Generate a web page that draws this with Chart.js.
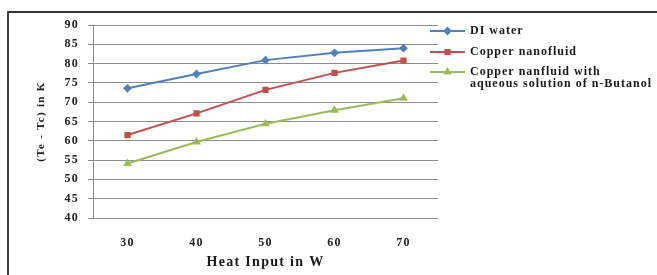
<!DOCTYPE html>
<html>
<head>
<meta charset="utf-8">
<script src="https://cdn.jsdelivr.net/npm/chart.js@4"></script>
<style>
  body { margin: 0; background: #fff; }
  #wrap { position: relative; width: 657px; height: 275px; }
  #frame { position: absolute; left: 7px; top: 11px; width: 660px; height: 300px;
           border-left: 2px solid #444; border-top: 2px solid #333; }
  canvas { position: absolute; left: 0; top: 0; }
</style>
</head>
<body>
<div id="wrap">
  <div id="frame"></div>
  <canvas id="heatChart" width="657" height="275"></canvas>
</div>
<script>
const heatInput = ["30", "40", "50", "60", "70"];
const diWater = [73.6, 77.3, 80.9, 82.8, 84.0];
const copperNano = [61.5, 67.1, 73.2, 77.6, 80.8];
const copperButanol = [54.1, 59.7, 64.4, 67.9, 71.0];
const seriesNames = ["DI water", "Copper nanofluid", ["Copper nanfluid with", "aqueous solution of n-Butanol"]];

const serif = "'Liberation Serif', 'DejaVu Serif', serif";

// the picture's text is spread out a bit, so widen letter spacing for all chart text
const spacedText = {
    id: 'spacedText',
    beforeDraw(chart) {
        chart.ctx.letterSpacing = "1.3px";
    }
};

// legend drawn by hand so the third label can wrap on two lines
const sideLegend = {
    id: 'sideLegend',
    afterDraw(chart) {
        const ctx = chart.ctx;
        const rows = [31, 52, 72];
        ctx.save();
        chart.data.datasets.forEach((ds, i) => {
            const y = rows[i];
            ctx.strokeStyle = ds.borderColor;
            ctx.lineWidth = 2;
            ctx.beginPath();
            ctx.moveTo(430, y);
            ctx.lineTo(465, y);
            ctx.stroke();
            ctx.fillStyle = ds.borderColor;
            Chart.helpers.drawPoint(ctx, {
                pointStyle: ds.pointStyle,
                radius: ds.pointRadius,
                rotation: 0,
                borderWidth: 1
            }, 447.5, y);
            ctx.fillStyle = "#1a1a1a";
            ctx.font = "bold 12px " + serif;
            ctx.letterSpacing = "1px";
            ctx.textBaseline = "middle";
            const label = seriesNames[i];
            if (Array.isArray(label)) {
                label.forEach((t, k) => ctx.fillText(t, 470, y + k * 12));
            } else {
                ctx.fillText(label, 470, y);
            }
        });
        ctx.restore();
    }
};

const ctx = document.getElementById('heatChart').getContext('2d');
const heatChart = new Chart(ctx, {
    type: 'line',
    data: {
        labels: heatInput,
        datasets: [{
            label: "DI water",
            data: diWater,
            borderColor: '#4f81bd',
            backgroundColor: '#4f81bd',
            pointStyle: 'rectRot',
            pointRadius: 3,
            borderWidth: 2
        }, {
            label: "Copper nanofluid",
            data: copperNano,
            borderColor: '#c0504d',
            backgroundColor: '#c0504d',
            pointStyle: 'rect',
            pointRadius: 3,
            borderWidth: 2
        }, {
            label: "Copper nanfluid with aqueous solution of n-Butanol",
            data: copperButanol,
            borderColor: '#9bbb59',
            backgroundColor: '#9bbb59',
            pointStyle: 'triangle',
            pointRadius: 3,
            borderWidth: 2
        }]
    },
    options: {
        responsive: false,
        animation: false,
        layout: { padding: { left: 0, right: 219, top: 25, bottom: 0 } },
        plugins: {
            legend: { display: false },
            tooltip: { enabled: false }
        },
        scales: {
            x: {
                offset: true,
                grid: { display: false },
                border: { display: false },
                ticks: { color: '#222', padding: 10, font: { family: serif, size: 12, weight: 'bold' } },
                title: {
                    display: true,
                    text: "Heat Input in W",
                    color: '#1a1a1a',
                    padding: { top: 6 },
                    font: { family: serif, size: 14, weight: 'bold' }
                },
                afterFit(scale) { scale.height = 57; }
            },
            y: {
                min: 40,
                max: 90,
                ticks: { stepSize: 5, color: '#222', padding: 9, font: { family: serif, size: 12, weight: 'bold' } },
                grid: { color: '#8c8c8c', tickLength: 5, lineWidth: 1 },
                border: { color: '#8c8c8c' },
                title: {
                    display: true,
                    text: "(Te - Tc) in K",
                    color: '#1a1a1a',
                    padding: { top: 35 },
                    font: { family: serif, size: 11, weight: 'bold' }
                },
                afterFit(scale) { scale.width = 93; }
            }
        }
    },
    plugins: [spacedText, sideLegend]
});
</script>
</body>
</html>
